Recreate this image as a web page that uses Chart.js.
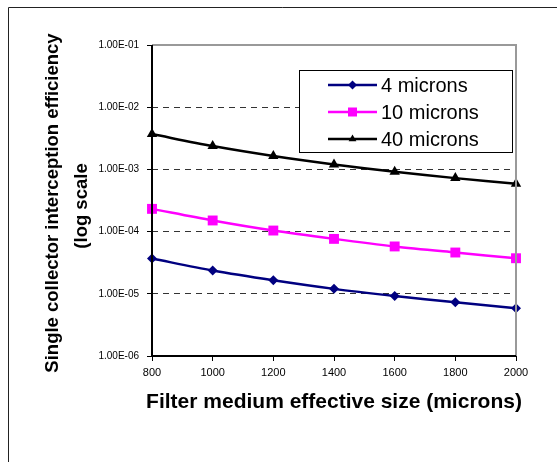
<!DOCTYPE html>
<html>
<head>
<meta charset="utf-8">
<title>Single collector interception efficiency</title>
<script src="https://cdn.jsdelivr.net/npm/chart.js@4/dist/chart.umd.min.js"></script>
<style>
    html, body { margin: 0; padding: 0; background: #fff; overflow: hidden; }
    #wrap { width: 557px; height: 462px; }
    canvas { display: block; }
</style>
</head>
<body>
<div id="wrap"><canvas id="chart" width="557" height="462"></canvas></div>
<script>
// Filter medium effective size (microns)
const mediumSizes = [800, 1000, 1200, 1400, 1600, 1800, 2000];

// Interception efficiency per particle size
const eff4 = [3.69e-5, 2.37e-5, 1.65e-5, 1.20e-5, 9.24e-6, 7.31e-6, 5.86e-6];
const eff10 = [2.32e-4, 1.51e-4, 1.04e-4, 7.64e-5, 5.77e-5, 4.61e-5, 3.73e-5];
const eff40 = [3.70e-3, 2.37e-3, 1.64e-3, 1.20e-3, 9.14e-4, 7.24e-4, 5.86e-4];

const seriesNames = ['4 microns', '10 microns', '40 microns'];
const yTicks = [1e-6, 1e-5, 1e-4, 1e-3, 1e-2, 1e-1];

const FONT = '"Liberation Sans", Arial, sans-serif';
const colors = ['#000080', '#FF00FF', '#000000'];
const markers = ['rectRot', 'rect', 'triangle'];
const markerSize = [5, 7, 6];

function points(values) {
    return mediumSizes.map((x, i) => ({ x: x, y: values[i] }));
}

// 1.00E-05 style labels
function sciLabel(v) {
    const exp = Math.round(Math.log10(v));
    const sign = exp < 0 ? '-' : '+';
    return '1.00E' + sign + String(Math.abs(exp)).padStart(2, '0');
}

// legend marker shapes
function drawMarker(ctx, type, x, y, r) {
    ctx.beginPath();
    if (type === 'rectRot') {
        ctx.moveTo(x, y - r);
        ctx.lineTo(x + r, y);
        ctx.lineTo(x, y + r);
        ctx.lineTo(x - r, y);
    } else if (type === 'rect') {
        ctx.rect(x - r, y - r, 2 * r, 2 * r);
    } else {
        ctx.moveTo(x, y - r);
        ctx.lineTo(x + r * 0.87, y + r * 0.5);
        ctx.lineTo(x - r * 0.87, y + r * 0.5);
    }
    ctx.closePath();
    ctx.fill();
}

// frame, plot border, axis titles and the boxed legend
const decorations = {
    id: 'decorations',
    beforeDraw(chart) {
        const ctx = chart.ctx;
        ctx.save();
        ctx.fillStyle = '#fff';
        ctx.fillRect(0, 0, chart.width, chart.height);
        ctx.strokeStyle = '#222';
        ctx.lineWidth = 1;
        ctx.beginPath();
        ctx.moveTo(8.5, chart.height);
        ctx.lineTo(8.5, 7.5);
        ctx.lineTo(chart.width, 7.5);
        ctx.stroke();
        ctx.restore();
    },
    afterDatasetsDraw(chart) {
        const ctx = chart.ctx;
        const a = chart.chartArea;
        ctx.save();
        ctx.lineWidth = 2;
        ctx.strokeStyle = '#999';
        ctx.beginPath();
        ctx.moveTo(a.left, a.top);
        ctx.lineTo(a.right, a.top);
        ctx.lineTo(a.right, a.bottom);
        ctx.stroke();
        ctx.strokeStyle = '#000';
        ctx.beginPath();
        ctx.moveTo(a.left, a.top);
        ctx.lineTo(a.left, a.bottom);
        ctx.lineTo(a.right, a.bottom);
        ctx.stroke();

        // axis titles
        ctx.fillStyle = '#000';
        ctx.textAlign = 'center';
        ctx.textBaseline = 'middle';
        ctx.font = 'bold 21px ' + FONT;
        ctx.fillText('Filter medium effective size (microns)', 334, 402);

        ctx.save();
        ctx.translate(53, 203);
        ctx.rotate(-Math.PI / 2);
        ctx.font = 'bold 18.5px ' + FONT;
        ctx.fillText('Single collector interception efficiency', 0, 0);
        ctx.fillText('(log scale', -3, 29);
        ctx.restore();

        // legend box
        const box = { x: 299.5, y: 70.5, w: 213, h: 82 };
        ctx.fillStyle = '#fff';
        ctx.fillRect(box.x, box.y, box.w, box.h);
        ctx.lineWidth = 1;
        ctx.strokeStyle = '#000';
        ctx.strokeRect(box.x, box.y, box.w, box.h);

        ctx.font = '20px ' + FONT;
        ctx.textAlign = 'left';
        seriesNames.forEach((name, i) => {
            const y = 85 + i * 27;
            ctx.strokeStyle = colors[i];
            ctx.fillStyle = colors[i];
            ctx.lineWidth = 2.5;
            ctx.beginPath();
            ctx.moveTo(328, y);
            ctx.lineTo(377, y);
            ctx.stroke();
            drawMarker(ctx, markers[i], 352.5, y, 4.5);
            ctx.fillStyle = '#000';
            ctx.fillText(name, 381, y + 1);
        });
        ctx.restore();
    }
};

const datasets = [eff4, eff10, eff40].map((vals, i) => ({
    label: seriesNames[i],
    data: points(vals),
    borderColor: colors[i],
    backgroundColor: colors[i],
    borderWidth: 2.5,
    pointStyle: markers[i],
    pointRadius: markerSize[i],
    pointBorderWidth: 0,
    pointHoverRadius: markerSize[i],
    tension: 0.3,
    clip: false
}));

new Chart(document.getElementById('chart'), {
    type: 'line',
    data: { datasets: datasets },
    options: {
        responsive: false,
        animation: false,
        events: [],
        layout: { padding: { left: 0, top: 45, right: 41, bottom: 0 }, autoPadding: false },
        plugins: {
            legend: { display: false },
            tooltip: { enabled: false }
        },
        scales: {
            x: {
                type: 'linear',
                min: 800,
                max: 2000,
                afterFit(scale) { scale.height = 106; },
                ticks: {
                    stepSize: 200,
                    color: '#000',
                    padding: 5,
                    maxRotation: 0,
                    font: { family: FONT, size: 11 },
                    callback: (v) => String(v)
                },
                grid: {
                    drawOnChartArea: false,
                    drawTicks: true,
                    tickLength: 5,
                    tickColor: '#000',
                    tickWidth: 1
                },
                border: { display: false }
            },
            y: {
                type: 'logarithmic',
                min: 1e-6,
                max: 1e-1,
                afterFit(scale) { scale.width = 152; },
                afterBuildTicks(scale) {
                    scale.ticks = yTicks.map(v => ({ value: v }));
                },
                ticks: {
                    color: '#000',
                    padding: 8,
                    font: { family: FONT, size: 10 },
                    callback: (v) => sciLabel(v)
                },
                grid: {
                    color: (c) => (c.tick && (c.tick.value === 1e-6 || c.tick.value === 1e-1)) ? 'rgba(0,0,0,0)' : '#333',
                    lineWidth: 1,
                    tickLength: 5,
                    tickColor: '#000',
                    tickWidth: 1
                },
                border: { display: false, dash: [6, 5] }
            }
        }
    },
    plugins: [decorations]
});
</script>
</body>
</html>
